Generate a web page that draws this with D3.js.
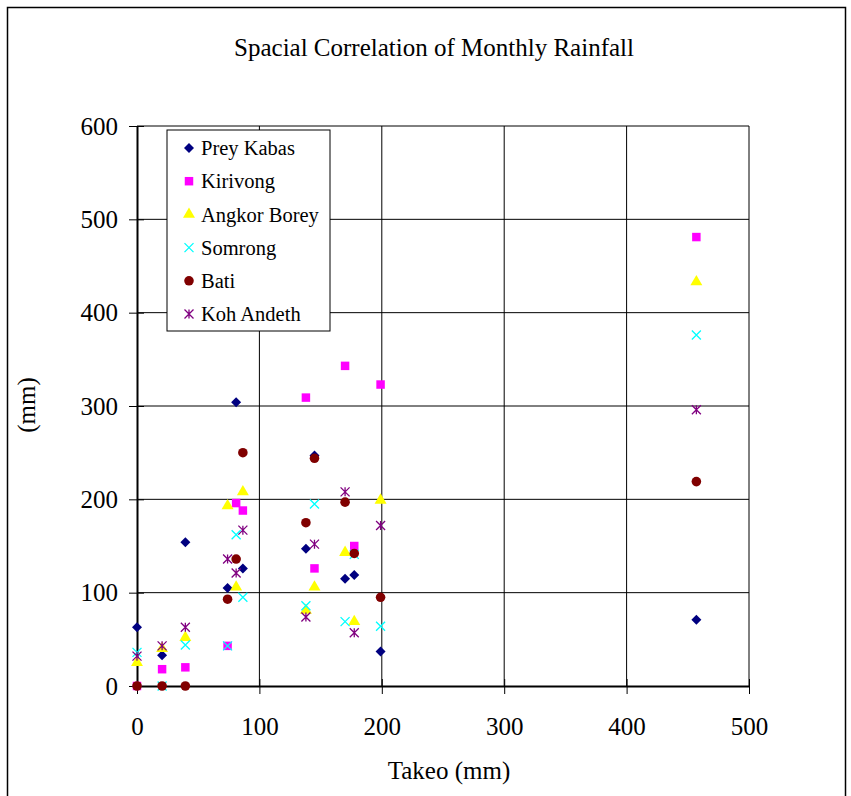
<!DOCTYPE html>
<html>
<head>
<meta charset="utf-8">
<script src="https://cdn.jsdelivr.net/npm/d3@7"></script>
<style>
  body { margin: 0; background: #fff; }
  svg { display: block; font-family: "Liberation Serif", "Times New Roman", serif; }
</style>
</head>
<body>
<div id="chart"></div>
<script>
// Takeo monthly rainfall (x) against the other stations (y)
const takeo = [0, 20.5, 39.5, 74, 81, 86.5, 138, 145, 170, 177.5, 199, 457];

const preyKabas   = [63, 33, 154, 105, 304, 126, 147, 247, 115, 119, 37, 71];
const kirivong    = [0, 18, 20, 43, 196, 188, 309, 126, 343, 150, 323, 481];
const angkorBorey = [25, 40, 52, 193, 106, 208, 81, 106, 143, 69, 199, 433];
const somrong     = [36, 0, 44, 43, 162, 95, 86, 195, 69, 141, 64, 376];
const bati        = [0, 0, 0, 93, 136, 250, 175, 244, 197, 142, 95, 219];
const kohAndeth   = [32, 43, 63, 136, 121, 167, 74, 152, 208, 57, 172, 296];

const seriesNames = ['Prey Kabas', 'Kirivong', 'Angkor Borey', 'Somrong', 'Bati', 'Koh Andeth'];
const xTicks = [0, 100, 200, 300, 400, 500];
const yTicks = [0, 100, 200, 300, 400, 500, 600];

const series = [
  { name: seriesNames[0], values: preyKabas,   shape: 'diamond',  color: '#000080' },
  { name: seriesNames[1], values: kirivong,    shape: 'square',   color: '#ff00ff' },
  { name: seriesNames[2], values: angkorBorey, shape: 'triangle', color: '#ffff00' },
  { name: seriesNames[3], values: somrong,     shape: 'cross',    color: '#00ffff' },
  { name: seriesNames[4], values: bati,        shape: 'circle',   color: '#800000' },
  { name: seriesNames[5], values: kohAndeth,   shape: 'star',     color: '#800080' }
];

const width = 851, height = 796;
const margin = { top: 126, left: 137, right: 102, bottom: 110 };
const chartWidth = width - margin.left - margin.right;
const chartHeight = height - margin.top - margin.bottom;

const svg = d3.select('#chart').append('svg')
  .attr('width', width)
  .attr('height', height);

// outer frame
svg.append('rect')
  .attr('x', 7.5).attr('y', 7.5)
  .attr('width', 838).attr('height', 820)
  .attr('fill', 'none')
  .attr('stroke', '#000')
  .attr('stroke-width', 1.5);

svg.append('text')
  .attr('x', 434).attr('y', 56)
  .attr('text-anchor', 'middle')
  .attr('font-size', 25)
  .text('Spacial Correlation of Monthly Rainfall');

const x = d3.scaleLinear().domain([0, 500]).range([0, chartWidth]);
const y = d3.scaleLinear().domain([0, 600]).range([chartHeight, 0]);

const g = svg.append('g')
  .attr('transform', 'translate(' + [margin.left, margin.top] + ')');

// grid
g.append('g').selectAll('line')
  .data(yTicks.slice(1))
  .enter().append('line')
  .attr('x1', 0).attr('x2', chartWidth)
  .attr('y1', d => y(d)).attr('y2', d => y(d))
  .attr('stroke', '#000').attr('stroke-width', 1);

g.append('g').selectAll('line')
  .data(xTicks.slice(1))
  .enter().append('line')
  .attr('x1', d => x(d)).attr('x2', d => x(d))
  .attr('y1', 0).attr('y2', chartHeight)
  .attr('stroke', '#000').attr('stroke-width', 1);

// axes with cross ticks
const xAxis = g.append('g')
  .attr('transform', 'translate(0,' + chartHeight + ')')
  .call(d3.axisBottom(x).tickValues(xTicks).tickSizeInner(8).tickSizeOuter(0).tickPadding(23));
xAxis.selectAll('.tick line').attr('y1', -7).attr('stroke-width', 1);
const yAxis = g.append('g')
  .call(d3.axisLeft(y).tickValues(yTicks).tickSizeInner(8).tickSizeOuter(0).tickPadding(11));
yAxis.selectAll('.tick line').attr('x1', 7).attr('stroke-width', 1);

[xAxis, yAxis].forEach(a => {
  a.select('.domain').attr('stroke', '#000').attr('stroke-width', 2);
  a.selectAll('.tick text')
    .attr('font-family', '"Liberation Serif", serif')
    .attr('font-size', 25)
    .attr('fill', '#000');
});

svg.append('text')
  .attr('x', margin.left + chartWidth / 2 + 6).attr('y', 779)
  .attr('text-anchor', 'middle')
  .attr('font-size', 25)
  .text('Takeo (mm)');

svg.append('text')
  .attr('transform', 'translate(35,' + (margin.top + chartHeight / 2 - 1) + ') rotate(-90)')
  .attr('text-anchor', 'middle')
  .attr('font-size', 25)
  .text('(mm)');

function drawMarker(sel, shape, color) {
  if (shape === 'cross' || shape === 'star') {
    const s = 4.5;
    sel.append('path')
      .attr('d', 'M' + -s + ',' + -s + 'L' + s + ',' + s + 'M' + -s + ',' + s + 'L' + s + ',' + -s +
        (shape === 'star' ? 'M0,' + -s + 'L0,' + s : ''))
      .attr('fill', 'none')
      .attr('stroke', color)
      .attr('stroke-width', 1.3);
    return;
  }
  if (shape === 'diamond') {
    sel.append('path')
      .attr('d', 'M0,-5L5,0L0,5L-5,0Z')
      .attr('fill', color);
    return;
  }
  const types = {
    square: [d3.symbolSquare, 72],
    triangle: [d3.symbolTriangle, 62],
    circle: [d3.symbolCircle, 72]
  };
  sel.append('path')
    .attr('d', d3.symbol().type(types[shape][0]).size(types[shape][1]))
    .attr('fill', color);
}

// points
series.forEach(s => {
  const pts = g.append('g').selectAll('g')
    .data(s.values.map((v, i) => [takeo[i], v]))
    .enter().append('g')
    .attr('transform', d => 'translate(' + [x(d[0]), y(d[1])] + ')');
  drawMarker(pts, s.shape, s.color);
});

// legend
const legend = svg.append('g').attr('transform', 'translate(167,130)');
legend.append('rect')
  .attr('width', 163).attr('height', 201)
  .attr('fill', '#fff')
  .attr('stroke', '#000').attr('stroke-width', 1);

const item = legend.selectAll('.item')
  .data(series)
  .enter().append('g')
  .attr('transform', (d, i) => 'translate(22,' + (18 + i * 33.2) + ')');
item.each(function(d) { drawMarker(d3.select(this), d.shape, d.color); });
item.append('text')
  .attr('x', 12).attr('dy', '0.35em')
  .attr('font-size', 20.5)
  .text(d => d.name);
</script>
</body>
</html>
